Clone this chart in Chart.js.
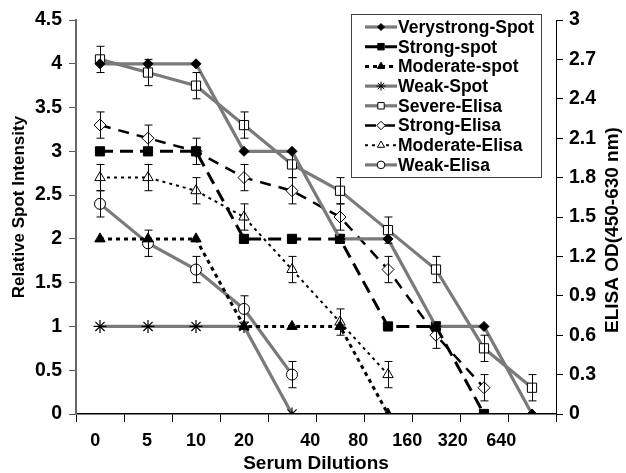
<!DOCTYPE html>
<html><head><meta charset="utf-8">
<script src="https://cdn.jsdelivr.net/npm/chart.js@4"></script>
<style>html,body{margin:0;padding:0;background:#fff}#wrap{width:626px;height:473px;position:relative}</style>
</head><body><div id="wrap"><canvas id="c" width="626" height="473"></canvas></div>
<script>
// ---- data ----
const pointIndex = [0, 1, 2, 3, 4, 5, 6, 7, 8, 9];
const dilutionLabels = ['0', '5', '10', '20', '40', '80', '160', '320', '640'];
const dilutionLabelAt = [0.4, 1.48, 2.5, 3.5, 4.88, 5.88, 6.9, 7.85, 8.86];
const seriesNames = ['Verystrong-Spot', 'Strong-spot', 'Moderate-spot', 'Weak-Spot',
  'Severe-Elisa', 'Strong-Elisa', 'Moderate-Elisa', 'Weak-Elisa'];
const verystrongSpot = [4, 4, 4, 3, 3, 2, 2, 1, 1, 0];
const strongSpot = [3, 3, 3, 2, 2, 2, 1, 1, 0, null];
const moderateSpot = [2, 2, 2, 1, 1, 1, 0, null, null, null];
const weakSpot = [1, 1, 1, 1, 0, null, null, null, null, null];
const severeElisa = [2.7, 2.6, 2.5, 2.2, 1.9, 1.7, 1.4, 1.1, 0.5, 0.2];
const strongElisa = [2.2, 2.1, 2.0, 1.8, 1.7, 1.5, 1.1, 0.6, 0.2, null];
const moderateElisa = [1.8, 1.8, 1.7, 1.5, 1.1, 0.7, 0.3, null, null, null];
const weakElisa = [1.6, 1.3, 1.1, 0.8, 0.3, null, null, null, null, null];
const elisaSD = [0.1, 0.1, 0.1, 0.1, 0.1, 0.1, 0.1, 0.1, 0.1, 0.1];
const leftTicks = { min: 0, max: 4.5, step: 0.5 };
const rightTicks = { min: 0, max: 3, step: 0.3 };
const leftTitle = 'Relative Spot Intensity';
const rightTitle = 'ELISA OD(450-630 nm)';
const bottomTitle = 'Serum Dilutions';

// ---- styles ----
const FONT = '"Liberation Sans", Arial, Helvetica, sans-serif';
const GRAY = '#7a7a7a';
const toXY = arr => arr.map((v, i) => ({ x: pointIndex[i] + 0.5, y: v }));

function ds(label, data, axis, style) {
  return Object.assign({
    label, data: toXY(data), yAxisID: axis, showLine: true, spanGaps: false,
    tension: 0, fill: false, pointBorderWidth: 1, pointHoverRadius: 0
  }, style);
}

const datasets = [
  ds(seriesNames[0], verystrongSpot, 'y', { borderColor: GRAY, borderWidth: 3.2, pointStyle: 'rectRot', pointRadius: 5, pointBackgroundColor: '#000', pointBorderColor: '#000' }),
  ds(seriesNames[1], strongSpot, 'y', { borderColor: '#000', borderWidth: 3, borderDash: [13, 7], pointStyle: 'rect', pointRadius: 6.5, pointBackgroundColor: '#000', pointBorderColor: '#000' }),
  ds(seriesNames[2], moderateSpot, 'y', { borderColor: '#000', borderWidth: 3, borderDash: [4, 4], pointStyle: 'triangle', pointRadius: 6, pointBackgroundColor: '#000', pointBorderColor: '#000' }),
  ds(seriesNames[3], weakSpot, 'y', { borderColor: GRAY, borderWidth: 3.2, pointStyle: 'star', pointRadius: 6.5, pointBackgroundColor: '#000', pointBorderColor: '#000', pointBorderWidth: 1.2 }),
  ds(seriesNames[4], severeElisa, 'y1', { borderColor: GRAY, borderWidth: 3.2, pointStyle: 'rect', pointRadius: 6.5, pointBackgroundColor: '#fff', pointBorderColor: '#000', errorBars: elisaSD }),
  ds(seriesNames[5], strongElisa, 'y1', { borderColor: '#000', borderWidth: 2.5, borderDash: [11, 8], pointStyle: 'rectRot', pointRadius: 6, pointBackgroundColor: '#fff', pointBorderColor: '#000', errorBars: elisaSD }),
  ds(seriesNames[6], moderateElisa, 'y1', { borderColor: '#000', borderWidth: 2, borderDash: [3, 4], pointStyle: 'triangle', pointRadius: 6, pointBackgroundColor: '#fff', pointBorderColor: '#000', errorBars: elisaSD }),
  ds(seriesNames[7], weakElisa, 'y1', { borderColor: GRAY, borderWidth: 3.2, pointStyle: 'circle', pointRadius: 5.5, pointBackgroundColor: '#fff', pointBorderColor: '#000', errorBars: elisaSD })
];

const errorBarPlugin = {
  id: 'errorBars',
  afterDatasetsDraw(chart) {
    const ctx = chart.ctx;
    ctx.save();
    ctx.strokeStyle = '#000';
    ctx.lineWidth = 1;
    chart.data.datasets.forEach((d, di) => {
      if (!d.errorBars) return;
      const meta = chart.getDatasetMeta(di);
      const sc = chart.scales[d.yAxisID];
      meta.data.forEach((el, i) => {
        const v = d.data[i].y;
        if (v === null || v === undefined) return;
        const e = d.errorBars[i];
        const x = Math.round(el.x) + 0.5;
        const yt = sc.getPixelForValue(v + e), yb = sc.getPixelForValue(v - e);
        ctx.beginPath();
        ctx.moveTo(x, yt); ctx.lineTo(x, yb);
        ctx.moveTo(x - 4, yt); ctx.lineTo(x + 4, yt);
        ctx.moveTo(x - 4, yb); ctx.lineTo(x + 4, yb);
        ctx.stroke();
      });
    });
    ctx.restore();
  }
};

const legendPlugin = {
  id: 'boxLegend',
  afterDraw(chart) {
    const ctx = chart.ctx;
    const x0 = 351, y0 = 14, w = 190, h = 163;
    ctx.save();
    ctx.fillStyle = '#fff';
    ctx.fillRect(x0, y0, w, h);
    ctx.strokeStyle = '#444';
    ctx.lineWidth = 1;
    ctx.strokeRect(x0 + 0.5, y0 + 0.5, w, h);
    chart.data.datasets.forEach((d, i) => {
      const y = 27 + i * 19.7;
      ctx.save();
      ctx.strokeStyle = d.borderColor;
      ctx.lineWidth = d.borderWidth;
      ctx.setLineDash(d.borderDash || []);
      ctx.beginPath(); ctx.moveTo(365, y); ctx.lineTo(397, y); ctx.stroke();
      ctx.restore();
      ctx.save();
      ctx.fillStyle = d.pointBackgroundColor;
      ctx.strokeStyle = d.pointBorderColor;
      ctx.lineWidth = 1;
      if (Chart.helpers && Chart.helpers.drawPoint) {
        Chart.helpers.drawPoint(ctx, { pointStyle: d.pointStyle, radius: d.pointRadius * 0.7, borderWidth: 1, rotation: 0 }, 381, y);
      }
      ctx.restore();
      ctx.fillStyle = '#000';
      ctx.font = 'bold 17.5px ' + FONT;
      ctx.textBaseline = 'middle';
      ctx.textAlign = 'left';
      ctx.fillText(d.label, 398, y + 1);
    });
    ctx.restore();
  }
};

const sideTitlesPlugin = {
  id: 'sideTitles',
  afterDraw(chart) {
    const ctx = chart.ctx;
    const ca = chart.chartArea;
    const mid = (ca.top + ca.bottom) / 2;
    const draw = (text, x, y, size) => {
      ctx.save();
      ctx.translate(x, y);
      ctx.rotate(-Math.PI / 2);
      ctx.fillStyle = '#000';
      ctx.font = 'bold ' + size + 'px ' + FONT;
      ctx.textAlign = 'center';
      ctx.textBaseline = 'middle';
      ctx.fillText(text, 0, 0);
      ctx.restore();
    };
    draw(leftTitle, 19, mid - 10, 17);
    draw(rightTitle, 613, mid + 13, 19);
  }
};

const fmt = v => String(+Number(v).toFixed(2));

new Chart(document.getElementById('c'), {
  type: 'line',
  data: { datasets },
  plugins: [errorBarPlugin, legendPlugin, sideTitlesPlugin],
  options: {
    responsive: false,
    animation: false,
    events: [],
    layout: { padding: { top: 20, bottom: 0, left: 0, right: 0 } },
    plugins: { legend: { display: false }, tooltip: { enabled: false } },
    scales: {
      x: {
        type: 'linear', position: 'bottom', min: 0, max: 10,
        ticks: { display: false, stepSize: 1 },
        grid: { drawOnChartArea: false, tickLength: 8, color: '#000', lineWidth: 1 },
        border: { color: '#000', width: 1.5 },
        afterFit: s => { s.height = 8; }
      },
      xl: {
        type: 'linear', position: 'bottom', min: 0, max: 10,
        grid: { display: false, drawTicks: false },
        border: { display: false },
        afterBuildTicks: s => { s.ticks = dilutionLabelAt.map(v => ({ value: v })); },
        ticks: {
          autoSkip: false, maxRotation: 0, padding: 8, color: '#000',
          font: { family: FONT, size: 18, weight: 'bold' },
          callback: (v, i) => dilutionLabels[i]
        },
        title: {
          display: true, text: bottomTitle, color: '#000',
          font: { family: FONT, size: 19, weight: 'bold', lineHeight: 1.0 },
          padding: { top: 0, bottom: 0 }
        },
        afterFit: s => { s.height = 51; }
      },
      y: {
        type: 'linear', position: 'left', min: leftTicks.min, max: leftTicks.max,
        ticks: { stepSize: leftTicks.step, padding: 7, color: '#000', font: { family: FONT, size: 19.5, weight: 'bold' }, callback: fmt },
        grid: { drawOnChartArea: false, tickLength: 7, color: '#555' },
        border: { color: '#666', width: 2 },
        afterFit: s => { s.width = 76; }
      },
      y1: {
        type: 'linear', position: 'right', min: rightTicks.min, max: rightTicks.max,
        ticks: { stepSize: rightTicks.step, padding: 6, color: '#000', font: { family: FONT, size: 19.5, weight: 'bold' }, callback: fmt },
        grid: { drawOnChartArea: false, tickLength: 7, color: '#000' },
        border: { color: '#000', width: 1 },
        afterFit: s => { s.width = 70; }
      }
    }
  }
});
</script>
</body></html>
